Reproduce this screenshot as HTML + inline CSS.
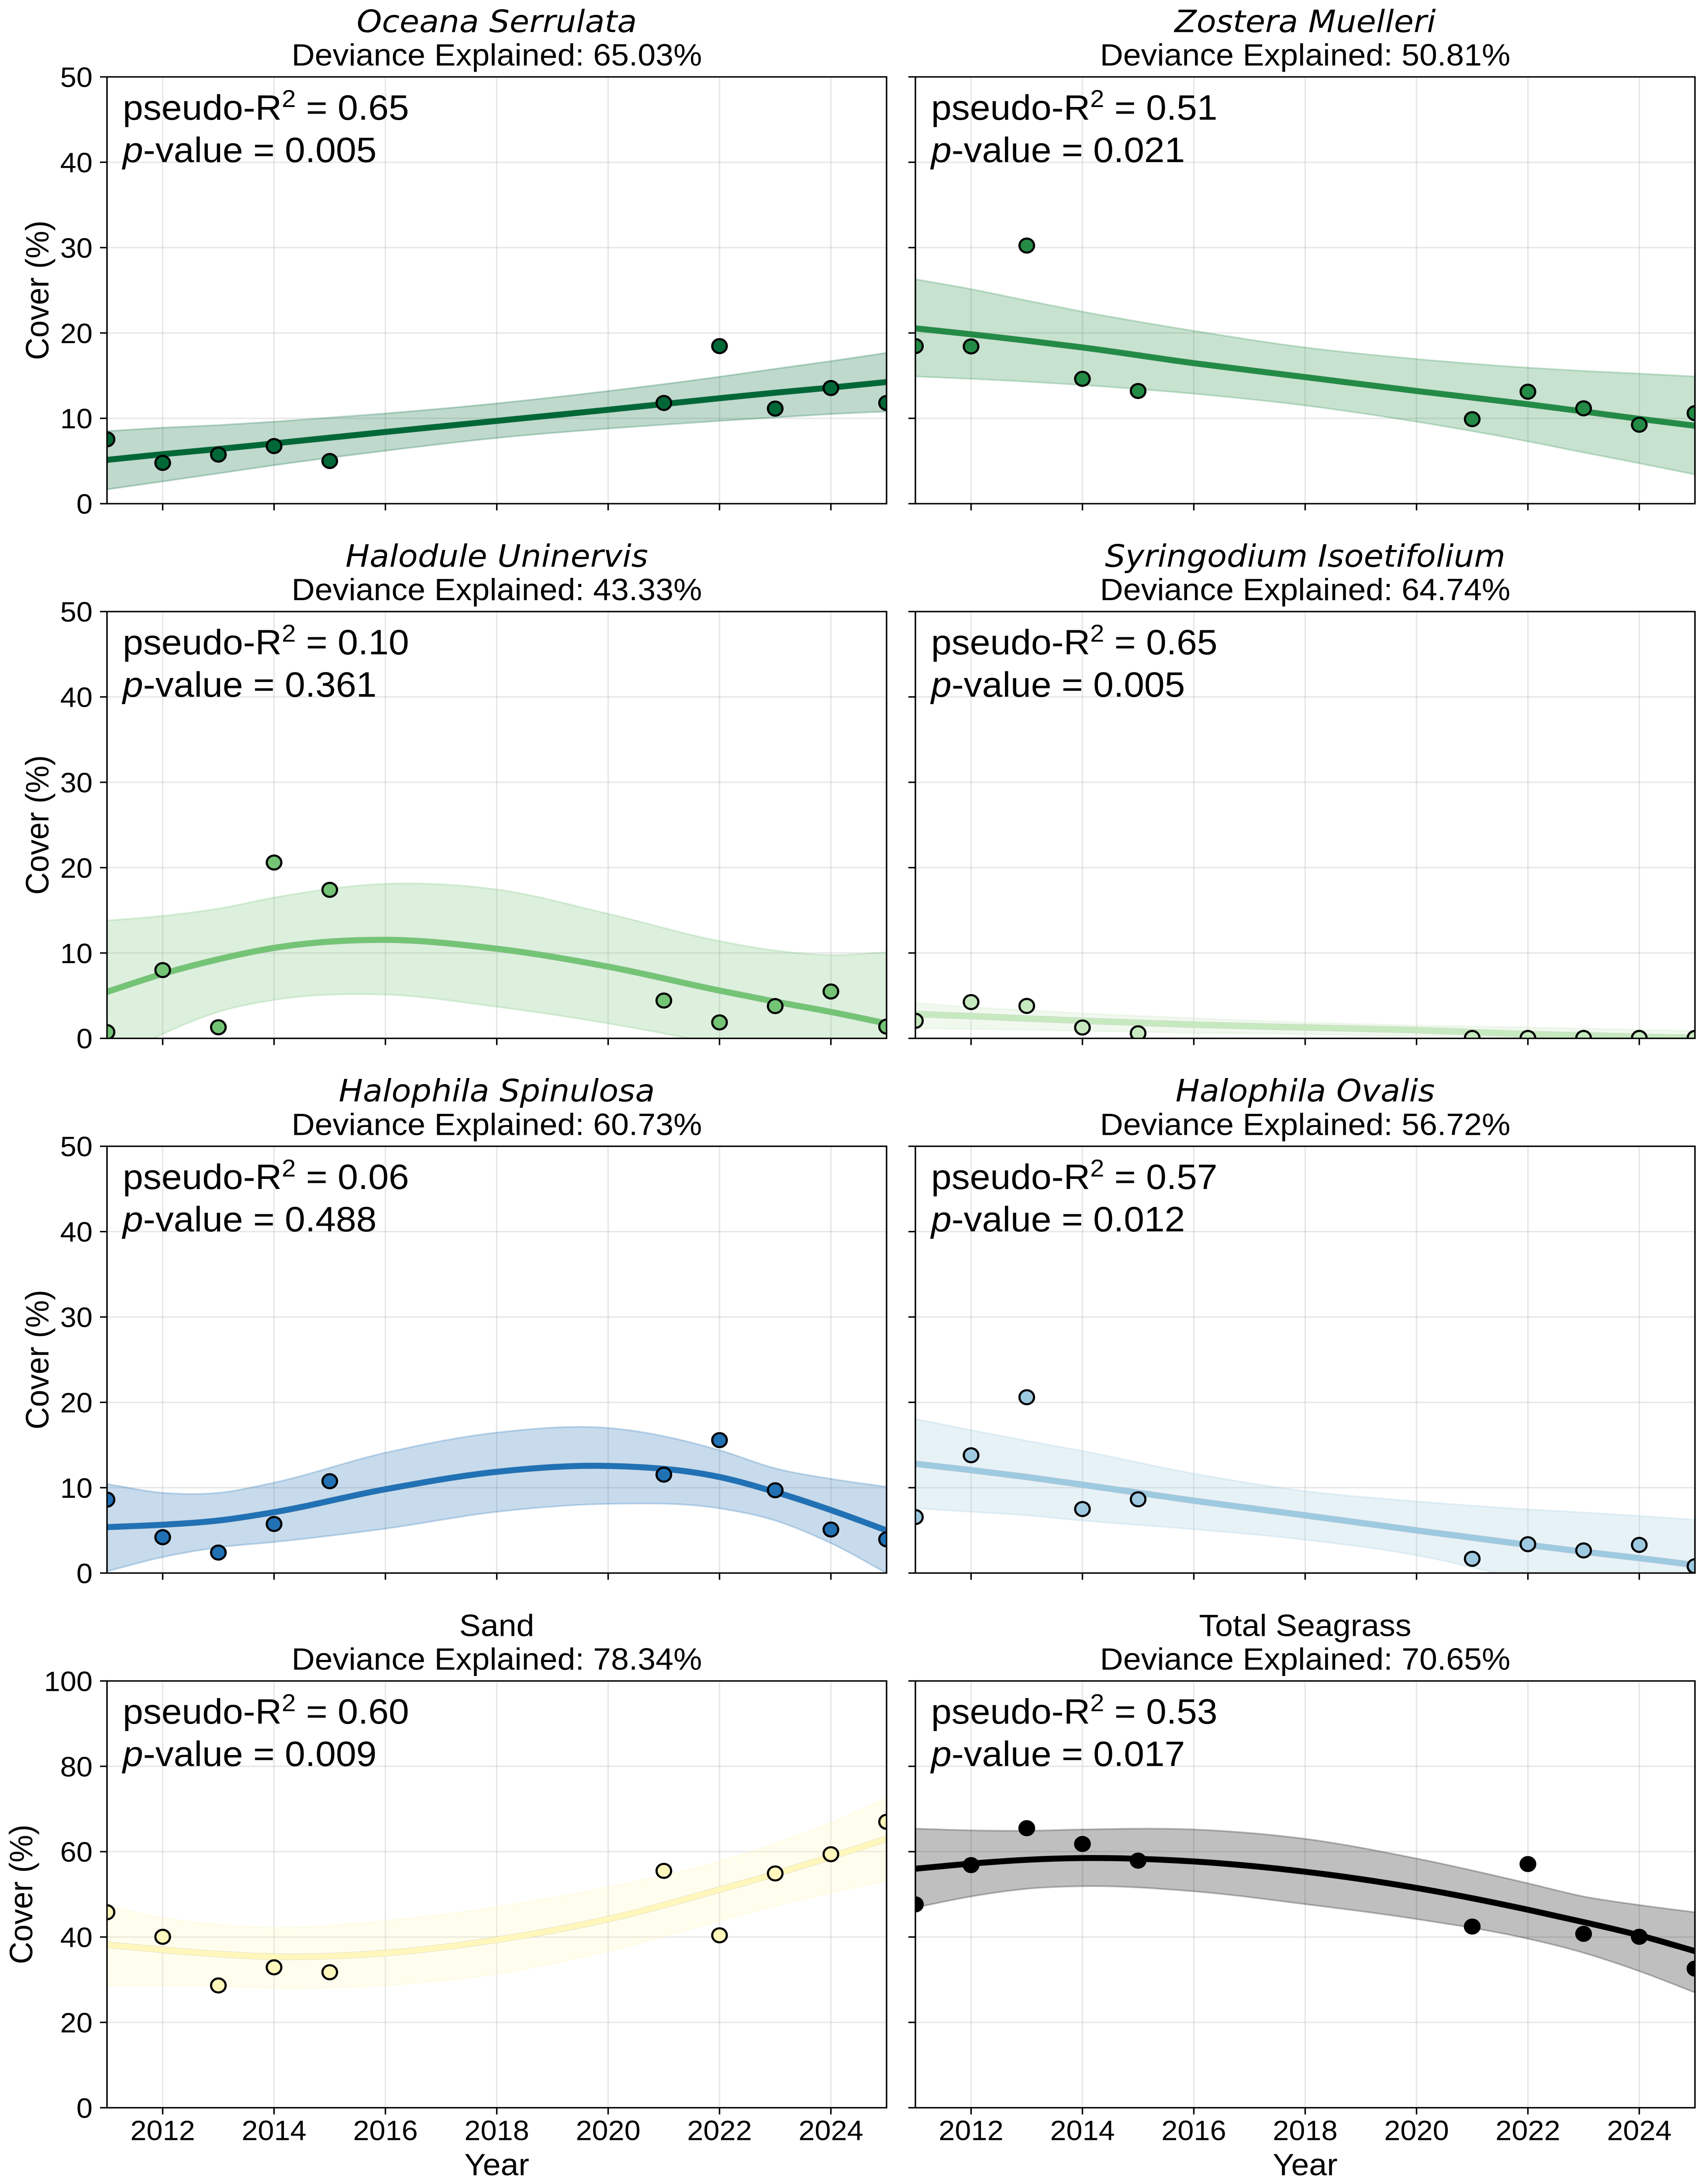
<!DOCTYPE html>
<html lang="en">
<head>
<meta charset="utf-8">
<title>Seagrass cover trends</title>
<style>
html,body{margin:0;padding:0;background:#fff;width:3904px;height:5212px;overflow:hidden}
svg{display:block}
text{fill:#000;font-family:"Liberation Sans",Arial,sans-serif}
.species{font-family:"DejaVu Sans",sans-serif;font-style:oblique}
</style>
</head>
<body>
<svg id="figure" xmlns="http://www.w3.org/2000/svg" width="3904" height="5212" viewBox="0 0 3904 5212" preserveAspectRatio="none"></svg>
<script>
const fitYears = [2011,2012,2013,2014,2016,2018,2020,2022,2023,2024,2025];
const obsYears = [2011,2012,2013,2014,2015,2021,2022,2023,2024,2025];
const xTickYears = [2012,2014,2016,2018,2020,2022,2024];
const yTicksSmall = [0,10,20,30,40,50];
const yTicksLarge = [0,20,40,60,80,100];

const oceanaObs = [7.54,4.78,5.75,6.75,5.0,11.8,18.46,11.14,13.55,11.8];
const oceanaFit = [5.13,5.8,6.4,7.06,8.4,9.7,11.0,12.35,13.0,13.6,14.25];
const oceanaUpper = [8.5,8.9,9.2,9.6,10.57,11.75,13.2,14.87,15.8,16.7,17.67];
const oceanaLower = [1.67,2.6,3.55,4.5,6.2,7.7,8.8,9.7,10.1,10.5,10.8];

const zosteraObs = [18.46,18.42,30.24,14.63,13.2,9.9,13.12,11.17,9.25,10.6];
const zosteraFit = [20.54,19.85,19.1,18.3,16.46,14.83,13.2,11.65,10.8,9.94,9.13];
const zosteraUpper = [26.3,25.14,23.8,22.5,20.25,18.3,16.95,15.93,15.55,15.24,14.9];
const zosteraLower = [14.9,14.63,14.3,13.9,12.88,11.5,9.6,7.3,6.0,4.73,3.42];

const haloduleObs = [0.73,8.0,1.3,20.6,17.4,4.43,1.87,3.78,5.49,1.38];
const haloduleFit = [5.45,7.56,9.27,10.6,11.54,10.5,8.4,5.6,4.3,3.1,1.75];
const haloduleUpper = [13.8,14.35,15.2,16.5,18.1,17.44,14.6,11.4,10.3,9.76,10.08];
const haloduleLower = [-3.0,0.5,3.1,4.5,5.12,3.7,1.75,-0.7,-2.0,-3.0,-4.0];

const syringodiumObs = [2.06,4.25,3.8,1.27,0.6,0.05,0.05,0.05,0.05,0.05];
const syringodiumFit = [2.85,2.6,2.33,2.06,1.6,1.27,0.96,0.5,0.35,0.2,0.05];
const syringodiumUpper = [4.16,3.63,3.3,2.93,2.36,1.84,1.5,1.27,1.15,1.0,0.88];
const syringodiumLower = [1.18,1.1,1.02,0.88,0.65,0.5,0.28,0.1,0.05,0.02,0.01];

const spinulosaObs = [8.6,4.2,2.4,5.75,10.76,11.53,15.57,9.7,5.1,3.95];
const spinulosaFit = [5.38,5.66,6.15,7.13,9.82,11.86,12.55,11.25,9.5,7.38,5.0];
const spinulosaUpper = [10.43,9.4,9.4,10.6,14.1,16.46,17.0,14.4,12.27,11.04,10.1];
const spinulosaLower = [0.2,1.87,3.0,3.63,5.2,7.17,8.1,7.58,6.15,3.5,0];

const ovalisObs = [6.56,13.8,20.6,7.5,8.64,1.67,3.38,2.65,3.3,0.8];
const ovalisFit = [12.8,12.06,11.25,10.35,8.48,6.76,5.0,3.3,2.5,1.75,0.94];
const ovalisUpper = [18.05,16.75,15.5,14.3,11.65,9.6,8.4,7.46,7.1,6.7,6.24];
const ovalisLower = [7.58,7.17,6.76,6.15,5.13,3.9,2.08,-0.8,-2.0,-3.2,-4.5];

const sandObs = [45.8,40.05,28.65,32.9,31.75,55.5,40.4,54.9,59.4,67];
const sandFit = [38.2,37,36,35.4,36.25,39.35,44.2,51.1,54.8,58.8,63];
const sandUpper = [47.3,44.5,42.9,42.2,43.8,47,51.7,57.7,61.9,66.8,72.5];
const sandLower = [28.6,28.7,28.5,28.1,28.7,31.4,36.7,43.8,47.3,50.4,53.2];

const totalObs = [47.65,56.85,65.5,61.8,57.9,42.45,57.1,40.75,40.05,32.6];
const totalFit = [56,57.2,58.1,58.5,57.7,55.3,51.5,46.4,43.5,40.4,36.7];
const totalUpper = [65.4,65,64.9,65.2,65.2,63,58.4,52.6,49.5,47.5,45.8];
const totalLower = [46.9,49.5,51.3,51.9,50.7,47.7,44.2,39.6,36.3,32,27];

const panels = [
  {key:'oceana-serrulata',name:'Oceana Serrulata',italic:true,dev:'65.03',r2:'0.65',p:'0.005',color:'#006837',obs:oceanaObs,fit:oceanaFit,upper:oceanaUpper,lower:oceanaLower},
  {key:'zostera-muelleri',name:'Zostera Muelleri',italic:true,dev:'50.81',r2:'0.51',p:'0.021',color:'#238b45',obs:zosteraObs,fit:zosteraFit,upper:zosteraUpper,lower:zosteraLower},
  {key:'halodule-uninervis',name:'Halodule Uninervis',italic:true,dev:'43.33',r2:'0.10',p:'0.361',color:'#74c476',obs:haloduleObs,fit:haloduleFit,upper:haloduleUpper,lower:haloduleLower},
  {key:'syringodium-isoetifolium',name:'Syringodium Isoetifolium',italic:true,dev:'64.74',r2:'0.65',p:'0.005',color:'#c7e9c0',obs:syringodiumObs,fit:syringodiumFit,upper:syringodiumUpper,lower:syringodiumLower},
  {key:'halophila-spinulosa',name:'Halophila Spinulosa',italic:true,dev:'60.73',r2:'0.06',p:'0.488',color:'#2171b5',obs:spinulosaObs,fit:spinulosaFit,upper:spinulosaUpper,lower:spinulosaLower},
  {key:'halophila-ovalis',name:'Halophila Ovalis',italic:true,dev:'56.72',r2:'0.57',p:'0.012',color:'#9ecae1',obs:ovalisObs,fit:ovalisFit,upper:ovalisUpper,lower:ovalisLower},
  {key:'sand',name:'Sand',italic:false,dev:'78.34',r2:'0.60',p:'0.009',color:'#fff7bc',obs:sandObs,fit:sandFit,upper:sandUpper,lower:sandLower},
  {key:'total-seagrass',name:'Total Seagrass',italic:false,dev:'70.65',r2:'0.53',p:'0.017',color:'#000000',obs:totalObs,fit:totalFit,upper:totalUpper,lower:totalLower}
];

const NS = 'http://www.w3.org/2000/svg';
const columnLefts = [245, 2096];
const panelWidth = 1785;
const panelHeight = 1018.5;
const lastBottom = 5030;
const rowPitch = 1276;
const figure = document.getElementById('figure');

const viewportHeight = window.innerHeight;
if (viewportHeight >= 4000 && viewportHeight < 5212) {
  figure.setAttribute('height', viewportHeight);
  document.documentElement.style.height = viewportHeight + 'px';
  document.body.style.height = viewportHeight + 'px';
}

function el(tag, attrs, parent, text) {
  const n = document.createElementNS(NS, tag);
  for (const k in attrs) n.setAttribute(k, attrs[k]);
  if (text !== undefined) n.textContent = text;
  parent.appendChild(n);
  return n;
}

function smoothPath(xs, ys, sx, sy, move) {
  const n = xs.length;
  const slope = i => {
    if (i === 0) return (ys[1] - ys[0]) / (xs[1] - xs[0]);
    if (i === n - 1) return (ys[n - 1] - ys[n - 2]) / (xs[n - 1] - xs[n - 2]);
    const h1 = Math.abs(xs[i] - xs[i - 1]), h2 = Math.abs(xs[i + 1] - xs[i]);
    const d1 = (ys[i] - ys[i - 1]) / (xs[i] - xs[i - 1]);
    const d2 = (ys[i + 1] - ys[i]) / (xs[i + 1] - xs[i]);
    return (h2 * d1 + h1 * d2) / (h1 + h2);
  };
  let d = (move ? 'M' : 'L') + sx(xs[0]).toFixed(1) + ' ' + sy(ys[0]).toFixed(1);
  for (let i = 0; i < n - 1; i++) {
    const h = (xs[i + 1] - xs[i]) / 3;
    d += 'C' + sx(xs[i] + h).toFixed(1) + ' ' + sy(ys[i] + slope(i) * h).toFixed(1) + ' ' +
      sx(xs[i + 1] - h).toFixed(1) + ' ' + sy(ys[i + 1] - slope(i + 1) * h).toFixed(1) + ' ' +
      sx(xs[i + 1]).toFixed(1) + ' ' + sy(ys[i + 1]).toFixed(1);
  }
  return d;
}

panels.forEach((panel, idx) => {
  const col = idx % 2;
  const row = Math.floor(idx / 2);
  const left = columnLefts[col];
  const bottom = lastBottom - (3 - row) * rowPitch;
  const top = bottom - panelHeight;
  const right = left + panelWidth;
  const cx = left + panelWidth / 2;
  const yTicks = row === 3 ? yTicksLarge : yTicksSmall;
  const yMax = yTicks[yTicks.length - 1];
  const sx = year => left + (year - 2011) / 14 * panelWidth;
  const sy = v => bottom - v / yMax * panelHeight;

  const g = el('g', {}, figure);
  
  

  const clipId = 'clip-' + idx;
  const clip = el('clipPath', {id: clipId}, g);
  el('rect', {x: left, y: top, width: panelWidth, height: panelHeight}, clip);

  const title = el('text', {x: cx, y: top - 107, 'text-anchor': 'middle', 'font-size': panel.italic ? 73.5 : 73.5, class: panel.italic ? 'species' : ''}, g, panel.name);
  
  

  const sub = el('text', {x: cx, y: top - 27, 'text-anchor': 'middle', 'font-size': 73.5}, g, 'Deviance Explained: ' + panel.dev + '%');
  
  

  const plot = el('g', {'clip-path': 'url(#' + clipId + ')'}, g);
  
  

  xTickYears.forEach(year => {
    const grid = el('line', {x1: sx(year), x2: sx(year), y1: top, y2: bottom, stroke: '#b0b0b0', 'stroke-opacity': 0.3, 'stroke-width': 3.4}, plot);
    
    
  });
  yTicks.forEach(v => {
    const grid = el('line', {x1: left, x2: right, y1: sy(v), y2: sy(v), stroke: '#b0b0b0', 'stroke-opacity': 0.3, 'stroke-width': 3.4}, plot);
    
    
  });

  const revYears = fitYears.slice().reverse();
  const revLower = panel.lower.slice().reverse();
  const bandPath = smoothPath(fitYears, panel.upper, sx, sy, true) + smoothPath(revYears, revLower, sx, sy, false) + 'Z';
  const band = el('path', {d: bandPath, fill: panel.color, 'fill-opacity': 0.25, stroke: panel.color, 'stroke-opacity': 0.25, 'stroke-width': 4}, plot);
  
  

  const fitPath = smoothPath(fitYears, panel.fit, sx, sy, true);
  const edge = el('path', {d: fitPath, fill: 'none', stroke: '#000', 'stroke-opacity': 0.22, 'stroke-width': 15}, plot);
  
  
  const fit = el('path', {d: fitPath, fill: 'none', stroke: panel.color, 'stroke-width': 14}, plot);
  
  

  obsYears.forEach((year, i) => {
    const pt = el('circle', {cx: sx(year), cy: sy(panel.obs[i]), r: 16.7, fill: panel.color, stroke: '#000', 'stroke-width': 5}, plot);
    
    
  });

  xTickYears.forEach(year => {
    const tick = el('line', {x1: sx(year), x2: sx(year), y1: bottom, y2: bottom + 16, stroke: '#000', 'stroke-width': 3.4}, g);
    
    
    if (row === 3) {
      const lab = el('text', {x: sx(year), y: bottom + 77, 'text-anchor': 'middle', 'font-size': 66.7}, g, String(year));
      
      
    }
  });
  yTicks.forEach(v => {
    const tick = el('line', {x1: left - 16, x2: left, y1: sy(v), y2: sy(v), stroke: '#000', 'stroke-width': 3.4}, g);
    
    
    if (col === 0) {
      const lab = el('text', {x: left - 33, y: sy(v) + 24, 'text-anchor': 'end', 'font-size': 66.7}, g, String(v));
      
      
    }
  });

  const frame = el('rect', {x: left, y: top, width: panelWidth, height: panelHeight, fill: 'none', stroke: '#000', 'stroke-width': 3.4}, g);
  
  

  const r2 = el('text', {x: left + 36, y: top + 102, 'font-size': 84, 'xml:space': 'preserve'}, g);
  
  
  el('tspan', {}, r2, 'pseudo-R');
  el('tspan', {dy: -30, 'font-size': 58}, r2, '2');
  el('tspan', {dy: 30}, r2, ' = ' + panel.r2);

  const pv = el('text', {x: left + 36, y: top + 203, 'font-size': 84, 'xml:space': 'preserve'}, g);
  
  
  el('tspan', {'font-style': 'italic'}, pv, 'p');
  el('tspan', {}, pv, '-value = ' + panel.p);

  if (col === 0) {
    const yx = row === 3 ? 74 : 111;
    const yy = (top + bottom) / 2;
    const yl = el('text', {x: yx, y: yy, 'text-anchor': 'middle', 'font-size': 74, transform: 'rotate(-90 ' + yx + ' ' + yy + ')'}, g, 'Cover (%)');
    
    
  }
  if (row === 3) {
    const xl = el('text', {x: cx, y: bottom + 161, 'text-anchor': 'middle', 'font-size': 73.5}, g, 'Year');
    
    
  }
});
</script>
</body>
</html>
